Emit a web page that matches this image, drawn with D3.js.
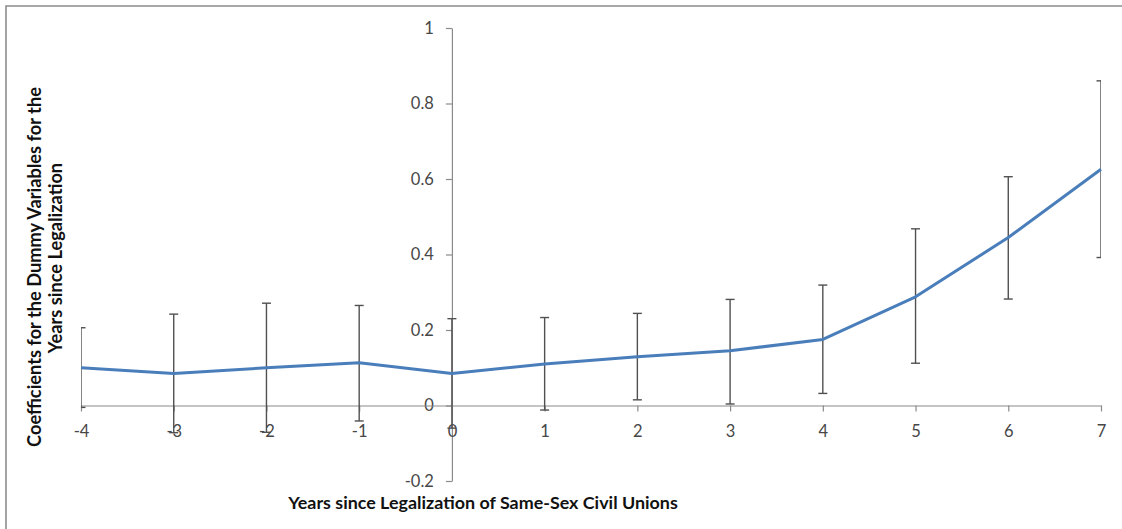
<!DOCTYPE html>
<html>
<head>
<meta charset="utf-8">
<script src="https://cdn.jsdelivr.net/npm/d3@7/dist/d3.min.js"></script>
<style>
  html, body { margin: 0; padding: 0; background: #ffffff; }
  svg { display: block; }
  .tick text { font-family: Lato, "Open Sans", sans-serif; }
</style>
</head>
<body>
<div id="chart"></div>
<script>
// Years relative to legalization (x values)
const years = [-4, -3, -2, -1, 0, 1, 2, 3, 4, 5, 6, 7];
// Estimated dummy coefficients
const coef  = [0.100, 0.085, 0.100, 0.113, 0.085, 0.110, 0.129, 0.145, 0.175, 0.288, 0.445, 0.626];
// Upper and lower confidence bounds
const upper = [0.206, 0.242, 0.271, 0.265, 0.230, 0.233, 0.244, 0.281, 0.319, 0.468, 0.606, 0.860];
const lower = [-0.005, -0.072, -0.071, -0.041, -0.060, -0.012, 0.015, 0.004, 0.032, 0.112, 0.282, 0.392];
// Axis tick values and labels
const yTicks = [-0.2, 0, 0.2, 0.4, 0.6, 0.8, 1];
const yTickLabels = ["-0.2", "0", "0.2", "0.4", "0.6", "0.8", "1"];
const xTicks = [-4, -3, -2, -1, 0, 1, 2, 3, 4, 5, 6, 7];
const xTickLabels = ["-4", "-3", "-2", "-1", "0", "1", "2", "3", "4", "5", "6", "7"];

const xTitle = "Years since Legalization of Same-Sex Civil Unions";
const yTitleLines = ["Coefficients for the Dummy Variables for the", "Years since Legalization"];

const W = 1122, H = 529;
const svg = d3.select("#chart").append("svg").attr("width", W).attr("height", H);

const x = d3.scaleLinear().domain([-4, 7]).range([81, 1101]);
const y = d3.scaleLinear().domain([-0.2, 1]).range([481, 28]);

const axisColor = "#8a8a8a";
const labelColor = "#474747";

// chart frame (top and left edges)
svg.append("path")
  .attr("d", `M6,${H} L6,6 L${W},6`)
  .attr("fill", "none")
  .attr("stroke", "#8c8c8c")
  .attr("stroke-width", 1.6);

// y axis, crossing at x = 0
const gy = svg.append("g")
  .attr("transform", `translate(${x(0)},0)`)
  .call(d3.axisLeft(y).tickValues(yTicks)
    .tickFormat((d, i) => yTickLabels[i])
    .tickSize(6).tickSizeOuter(0).tickPadding(12));
gy.select(".domain").attr("stroke", axisColor).attr("stroke-width", 1.2);
gy.selectAll(".tick line").attr("stroke", axisColor).attr("stroke-width", 1.2);
gy.selectAll(".tick text").attr("fill", labelColor).attr("font-size", 16.5);

// x axis, crossing at y = 0
const gx = svg.append("g")
  .attr("transform", `translate(0,${y(0)})`)
  .call(d3.axisBottom(x).tickValues(xTicks)
    .tickFormat((d, i) => xTickLabels[i])
    .tickSize(6).tickSizeOuter(0).tickPadding(14));
gx.select(".domain").attr("stroke", axisColor).attr("stroke-width", 1.2);
gx.selectAll(".tick line").attr("stroke", axisColor).attr("stroke-width", 1.2);
gx.selectAll(".tick text").attr("fill", labelColor).attr("font-size", 16.5);

// error bars, clipped to the plot's horizontal extent
svg.append("clipPath").attr("id", "plotClip")
  .append("rect")
  .attr("x", x(-4)).attr("y", 0)
  .attr("width", x(7) - x(-4)).attr("height", H);

const capHalf = 4.5;
const bars = svg.append("g").attr("clip-path", "url(#plotClip)")
  .attr("stroke", "#505050").attr("stroke-width", 1.4).attr("fill", "none");
years.forEach((yr, i) => {
  const cx = x(yr);
  bars.append("line").attr("x1", cx).attr("x2", cx).attr("y1", y(upper[i])).attr("y2", y(lower[i]));
  bars.append("line").attr("x1", cx - capHalf).attr("x2", cx + capHalf).attr("y1", y(upper[i])).attr("y2", y(upper[i]));
  bars.append("line").attr("x1", cx - capHalf).attr("x2", cx + capHalf).attr("y1", y(lower[i])).attr("y2", y(lower[i]));
});

// coefficient line
const line = d3.line().x((d, i) => x(years[i])).y(d => y(d));
svg.append("path")
  .datum(coef)
  .attr("d", line)
  .attr("fill", "none")
  .attr("stroke", "#4a7ebb")
  .attr("stroke-width", 3)
  .attr("stroke-linejoin", "round");

// fit a bold title into a given length
function fitText(sel, target, base) {
  const len = sel.node().getComputedTextLength();
  sel.attr("font-size", base * target / len);
}

// x axis title
const xt = svg.append("text")
  .attr("x", 483).attr("y", 509)
  .attr("text-anchor", "middle")
  .attr("font-family", "Lato, 'Open Sans', sans-serif")
  .attr("font-weight", "bold")
  .attr("font-size", 16)
  .attr("fill", "#111")
  .text(xTitle);
fitText(xt, 390, 16);

// y axis title, two rotated lines
const yt1 = svg.append("text")
  .attr("transform", "translate(41,267) rotate(-90)")
  .attr("text-anchor", "middle")
  .attr("font-family", "Lato, 'Open Sans', sans-serif")
  .attr("font-weight", "bold")
  .attr("font-size", 16)
  .attr("fill", "#111")
  .text(yTitleLines[0]);
fitText(yt1, 360, 16);
const fs = +yt1.attr("font-size");
svg.append("text")
  .attr("transform", "translate(62,258) rotate(-90)")
  .attr("text-anchor", "middle")
  .attr("font-family", "Lato, 'Open Sans', sans-serif")
  .attr("font-weight", "bold")
  .attr("font-size", fs)
  .attr("fill", "#111")
  .text(yTitleLines[1]);
</script>
</body>
</html>
